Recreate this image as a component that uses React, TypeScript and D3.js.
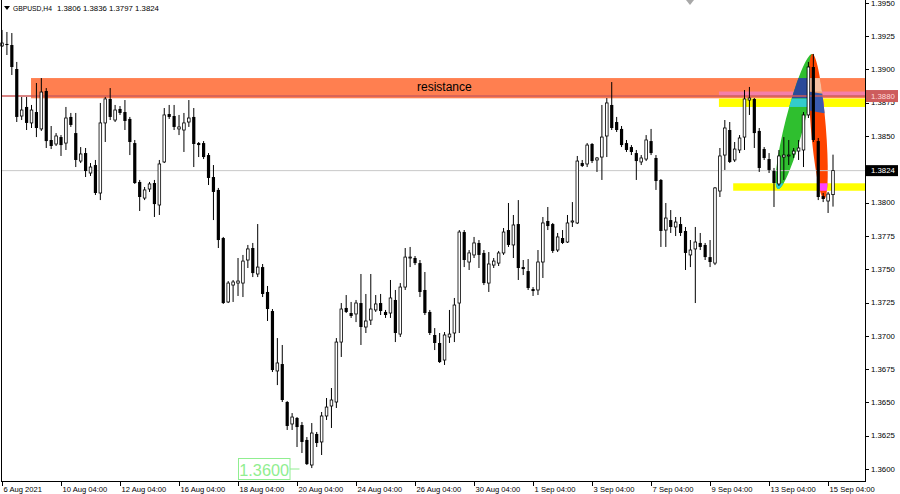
import React, { useEffect } from 'react';
import * as d3 from 'd3';

const W = 900;
const H = 494;

// ---- data ----
const symbolTitle = 'GBPUSD,H4';
const lastBar = [1.3806, 1.3836, 1.3797, 1.3824];

const tickIndex = [0, 12, 24, 36, 48, 60, 72, 84, 96, 108, 120, 132, 144, 156, 168];
const tickLabels = [
  '6 Aug 2021', '10 Aug 04:00', '12 Aug 04:00', '16 Aug 04:00', '18 Aug 04:00',
  '20 Aug 04:00', '24 Aug 04:00', '26 Aug 04:00', '30 Aug 04:00', '1 Sep 04:00',
  '3 Sep 04:00', '7 Sep 04:00', '9 Sep 04:00', '13 Sep 04:00', '15 Sep 04:00',
];
const priceTicks = [1.36, 1.3625, 1.365, 1.3675, 1.37, 1.3725, 1.375, 1.3775, 1.38, 1.3825, 1.385, 1.3875, 1.39, 1.3925, 1.395];

const opens = [
  1.39176, 1.39191, 1.39183, 1.39003, 1.38650, 1.38718, 1.38598, 1.38680, 1.38553, 1.38838,
  1.38470, 1.38440, 1.38492, 1.38447, 1.38643, 1.38522, 1.38312, 1.38372, 1.38222, 1.38282,
  1.38072, 1.38598, 1.38778, 1.38620, 1.38703, 1.38680, 1.38628, 1.38447, 1.38155, 1.38034,
  1.38102, 1.38147, 1.37982, 1.38305, 1.38665, 1.38650, 1.38553, 1.38545, 1.38605, 1.38643,
  1.38447, 1.38447, 1.38357, 1.38192, 1.38095, 1.37734, 1.37254, 1.37381, 1.37396, 1.37396,
  1.37569, 1.37659, 1.37464, 1.37516, 1.37329, 1.37186, 1.36736, 1.36788, 1.36503, 1.36338,
  1.36383, 1.36330, 1.36218, 1.36030, 1.36263, 1.36203, 1.36398, 1.36473, 1.36503, 1.36953,
  1.37209, 1.37171, 1.37164, 1.37246, 1.37066, 1.37118, 1.37194, 1.37246, 1.37179, 1.37171,
  1.37269, 1.37013, 1.37366, 1.37584, 1.37584, 1.37546, 1.37344, 1.37179, 1.37006, 1.36946,
  1.36818, 1.36991, 1.37021, 1.37246, 1.37779, 1.37554, 1.37607, 1.37697, 1.37622, 1.37396,
  1.37531, 1.37546, 1.37622, 1.37794, 1.37682, 1.37839, 1.37516, 1.37486, 1.37351, 1.37344,
  1.37554, 1.37862, 1.37839, 1.37644, 1.37734, 1.37704, 1.37854, 1.37847, 1.38297, 1.38290,
  1.38440, 1.38320, 1.38342, 1.38500, 1.38733, 1.38605, 1.38553, 1.38447, 1.38417, 1.38372,
  1.38305, 1.38327, 1.38462, 1.38335, 1.38170, 1.37794, 1.37869, 1.37817, 1.37839, 1.37787,
  1.37607, 1.37652, 1.37697, 1.37682, 1.37591, 1.37546, 1.38087, 1.38357, 1.38545, 1.38320,
  1.38395, 1.38492, 1.38770, 1.38778, 1.38538, 1.38402, 1.38327, 1.38237, 1.38140, 1.38342,
  1.38350, 1.38365, 1.38387, 1.38395, 1.38658, 1.39018, 1.38462, 1.38049, 1.38012, 1.38060,
];
const highs = [
  1.39296, 1.39281, 1.39273, 1.39056, 1.38793, 1.38793, 1.38733, 1.38898, 1.38935, 1.38860,
  1.38575, 1.38522, 1.38507, 1.38718, 1.38673, 1.38673, 1.38417, 1.38410, 1.38297, 1.38320,
  1.38748, 1.38793, 1.38860, 1.38733, 1.38725, 1.38770, 1.38643, 1.38470, 1.38170, 1.38117,
  1.38155, 1.38170, 1.38320, 1.38710, 1.38733, 1.38733, 1.38658, 1.38673, 1.38770, 1.38710,
  1.38455, 1.38462, 1.38372, 1.38282, 1.38110, 1.37742, 1.37411, 1.37419, 1.37584, 1.37607,
  1.37682, 1.37697, 1.37839, 1.37539, 1.37374, 1.37201, 1.36983, 1.36931, 1.36510, 1.36420,
  1.36390, 1.36353, 1.36240, 1.36345, 1.36278, 1.36428, 1.36533, 1.36608, 1.36983, 1.37246,
  1.37306, 1.37254, 1.37269, 1.37464, 1.37314, 1.37464, 1.37306, 1.37314, 1.37194, 1.37419,
  1.37344, 1.37396, 1.37659, 1.37667, 1.37599, 1.37569, 1.37479, 1.37194, 1.37058, 1.37021,
  1.37028, 1.37194, 1.37284, 1.37794, 1.37794, 1.37644, 1.37742, 1.37719, 1.37644, 1.37629,
  1.37584, 1.37637, 1.37809, 1.37997, 1.37907, 1.38019, 1.37569, 1.37576, 1.37366, 1.37644,
  1.37892, 1.37967, 1.37847, 1.37772, 1.37794, 1.37907, 1.38004, 1.38350, 1.38320, 1.38447,
  1.38447, 1.38342, 1.38733, 1.38785, 1.38905, 1.38643, 1.38575, 1.38470, 1.38432, 1.38395,
  1.38357, 1.38507, 1.38553, 1.38357, 1.38177, 1.37997, 1.37944, 1.37892, 1.37892, 1.37817,
  1.37719, 1.37817, 1.37772, 1.37697, 1.37719, 1.38117, 1.38410, 1.38620, 1.38605, 1.38455,
  1.38507, 1.38845, 1.38868, 1.38785, 1.38560, 1.38417, 1.38372, 1.38260, 1.38395, 1.38492,
  1.38470, 1.38410, 1.38470, 1.38680, 1.39056, 1.39116, 1.38485, 1.38072, 1.38080, 1.38360,
];
const lows = [
  1.39168, 1.39108, 1.38958, 1.38605, 1.38620, 1.38545, 1.38560, 1.38492, 1.38538, 1.38410,
  1.38402, 1.38425, 1.38350, 1.38395, 1.38568, 1.38267, 1.38297, 1.38192, 1.38200, 1.38057,
  1.38019, 1.38455, 1.38620, 1.38605, 1.38658, 1.38545, 1.38357, 1.38140, 1.37937, 1.38019,
  1.38080, 1.37892, 1.37907, 1.38297, 1.38628, 1.38545, 1.38507, 1.38380, 1.38568, 1.38267,
  1.38342, 1.38327, 1.38132, 1.37869, 1.37659, 1.37239, 1.37246, 1.37254, 1.37299, 1.37291,
  1.37509, 1.37441, 1.37441, 1.37291, 1.37111, 1.36728, 1.36630, 1.36503, 1.36293, 1.36293,
  1.36165, 1.36120, 1.36030, 1.36007, 1.36165, 1.36105, 1.36368, 1.36308, 1.36458, 1.36841,
  1.37171, 1.37134, 1.37103, 1.36931, 1.37021, 1.37081, 1.37179, 1.37156, 1.37134, 1.37134,
  1.36953, 1.36991, 1.37344, 1.37516, 1.37531, 1.37291, 1.37156, 1.37006, 1.36893, 1.36796,
  1.36781, 1.36946, 1.36953, 1.37021, 1.37516, 1.37494, 1.37584, 1.37509, 1.37381, 1.37329,
  1.37509, 1.37524, 1.37607, 1.37667, 1.37584, 1.37419, 1.37456, 1.37344, 1.37299, 1.37306,
  1.37434, 1.37794, 1.37622, 1.37629, 1.37689, 1.37697, 1.37817, 1.37839, 1.38267, 1.38267,
  1.38297, 1.38230, 1.38170, 1.38342, 1.38545, 1.38530, 1.38417, 1.38380, 1.38357, 1.38170,
  1.38282, 1.38312, 1.38357, 1.38095, 1.37667, 1.37667, 1.37772, 1.37749, 1.37749, 1.37494,
  1.37516, 1.37246, 1.37644, 1.37569, 1.37516, 1.37531, 1.38042, 1.38245, 1.38297, 1.38305,
  1.38372, 1.38395, 1.38658, 1.38410, 1.38230, 1.38320, 1.38222, 1.37967, 1.38125, 1.38170,
  1.38282, 1.38335, 1.38320, 1.38267, 1.38635, 1.38455, 1.38019, 1.38004, 1.37922, 1.37970,
];
const closes = [
  1.39198, 1.39183, 1.39018, 1.38643, 1.38695, 1.38598, 1.38695, 1.38560, 1.38830, 1.38462,
  1.38425, 1.38500, 1.38432, 1.38635, 1.38583, 1.38320, 1.38365, 1.38237, 1.38267, 1.38072,
  1.38598, 1.38778, 1.38643, 1.38695, 1.38673, 1.38613, 1.38455, 1.38147, 1.38042, 1.38095,
  1.38140, 1.37989, 1.38290, 1.38658, 1.38643, 1.38568, 1.38568, 1.38598, 1.38635, 1.38440,
  1.38432, 1.38342, 1.38185, 1.38080, 1.37719, 1.37246, 1.37396, 1.37404, 1.37411, 1.37561,
  1.37652, 1.37471, 1.37516, 1.37314, 1.37201, 1.36743, 1.36796, 1.36518, 1.36323, 1.36390,
  1.36315, 1.36203, 1.36037, 1.36270, 1.36195, 1.36398, 1.36465, 1.36518, 1.36953, 1.37201,
  1.37179, 1.37149, 1.37246, 1.37066, 1.37111, 1.37201, 1.37239, 1.37186, 1.37156, 1.37284,
  1.37021, 1.37366, 1.37591, 1.37591, 1.37546, 1.37329, 1.37171, 1.37021, 1.36946, 1.36803,
  1.37006, 1.37013, 1.37231, 1.37779, 1.37569, 1.37622, 1.37697, 1.37607, 1.37396, 1.37539,
  1.37561, 1.37622, 1.37779, 1.37682, 1.37832, 1.37509, 1.37501, 1.37359, 1.37336, 1.37554,
  1.37847, 1.37824, 1.37637, 1.37742, 1.37697, 1.37847, 1.37862, 1.38312, 1.38275, 1.38432,
  1.38312, 1.38335, 1.38492, 1.38748, 1.38560, 1.38545, 1.38432, 1.38395, 1.38380, 1.38312,
  1.38335, 1.38470, 1.38372, 1.38162, 1.37787, 1.37884, 1.37817, 1.37854, 1.37772, 1.37622,
  1.37644, 1.37704, 1.37667, 1.37591, 1.37554, 1.38110, 1.38350, 1.38560, 1.38305, 1.38402,
  1.38485, 1.38778, 1.38785, 1.38522, 1.38260, 1.38335, 1.38245, 1.38147, 1.38350, 1.38357,
  1.38357, 1.38387, 1.38410, 1.38658, 1.39018, 1.38470, 1.38042, 1.38027, 1.38064, 1.38240,
];

// zones: [start bar index, low price, high price]
const resistanceZone = [5.9, 1.38783, 1.38935];
const pinkZone = [145.8, 1.38800, 1.38834];
const upperYellowZone = [145.8, 1.38718, 1.38781];
const lowerYellowZone = [148.7, 1.38089, 1.38145];
const resistanceLevel = 1.388;
const currentPrice = 1.3824;
const labelPrice = 1.36;
const labelBar = 48.3;
// pattern legs: [bar index, price] endpoints
const greenLeg = [[157.8, 1.38103], [164.8, 1.39116]];
const redLeg = [[164.8, 1.39116], [167.2, 1.38027]];

const FONT = '"Liberation Sans", Arial, sans-serif';

export default function App() {
  useEffect(() => {
    document.body.style.margin = '0';
  }, []);

  const right = 865;
  const bottom = 481;
  const x = d3.scaleLinear().domain([0, 169]).range([2, 833]);
  const y = d3.scaleLinear().domain([1.36, 1.395]).range([469, 2.8]);

  const ell = (leg: number[][], ry: number) => {
    const x1 = x(leg[0][0]), y1 = y(leg[0][1]), x2 = x(leg[1][0]), y2 = y(leg[1][1]);
    const cx = (x1 + x2) / 2, cy = (y1 + y2) / 2;
    const rx = Math.hypot(x2 - x1, y2 - y1) / 2;
    const ang = (Math.atan2(y2 - y1, x2 - x1) * 180) / Math.PI;
    return { cx, cy, rx, ry, transform: `rotate(${ang},${cx},${cy})` };
  };
  const g = ell(greenLeg, 9.5);
  const r = ell(redLeg, 7.5);

  const zoneRect = (z: number[], fill: string, extra: any = {}) => (
    <rect x={x(z[0])} y={y(z[2])} width={right - x(z[0])} height={y(z[1]) - y(z[2])} fill={fill} {...extra} />
  );

  const candles = opens.map((o, i) => {
    const c = closes[i];
    const cx = x(i);
    const bull = c >= o;
    const top = y(Math.max(o, c));
    const bot = y(Math.min(o, c));
    const h = Math.max(bot - top, 0.8);
    return (
      <g key={i}>
        <line x1={cx} x2={cx} y1={y(highs[i])} y2={y(lows[i])} stroke="#000" strokeWidth={1} />
        {bull ? (
          <rect x={cx - 1.3} y={top} width={2.6} height={h} fill="#fff" stroke="#000" strokeWidth={0.8} />
        ) : (
          <rect x={cx - 1.6} y={top} width={3.2} height={h} fill="#000" />
        )}
      </g>
    );
  });

  const fmt = d3.format('.4f');

  return (
    <svg width={W} height={H} style={{ position: 'absolute', left: 0, top: 0, display: 'block' }} fontFamily={FONT}>
      <defs>
        <clipPath id="clipG">
          <ellipse {...g} />
        </clipPath>
        <clipPath id="clipR">
          <ellipse {...r} />
        </clipPath>
      </defs>
      <rect x={0} y={0} width={W} height={H} fill="#fff" />

      {/* zones */}
      {zoneRect(resistanceZone, '#ff7f50')}
      {zoneRect(pinkZone, '#f57fa8')}
      {zoneRect(upperYellowZone, '#ffff00')}
      {zoneRect(lowerYellowZone, '#ffff00')}

      {/* pattern shapes */}
      <ellipse {...g} fill="#2fbf2f" />
      <ellipse {...r} fill="#ff4500" />
      {zoneRect(resistanceZone, '#2b4a99', { clipPath: 'url(#clipG)' })}
      {zoneRect(resistanceZone, '#f7bfa0', { clipPath: 'url(#clipR)' })}
      {zoneRect(pinkZone, '#f5a070', { clipPath: 'url(#clipR)' })}
      {zoneRect(upperYellowZone, '#33cccc', { clipPath: 'url(#clipG)' })}
      {zoneRect(lowerYellowZone, '#33cccc', { clipPath: 'url(#clipG)' })}
      {zoneRect(upperYellowZone, '#ff44ff', { clipPath: 'url(#clipR)' })}
      {zoneRect(lowerYellowZone, '#ff44ff', { clipPath: 'url(#clipR)' })}
      <ellipse {...r} fill="#3a5bb0" clipPath="url(#clipG)" />

      {/* lines */}
      <line x1={1} x2={right} y1={y(currentPrice)} y2={y(currentPrice)} stroke="#c8c8c8" strokeWidth={1} />
      <line x1={1} x2={right} y1={y(resistanceLevel)} y2={y(resistanceLevel)} stroke="#cd5c5c" strokeWidth={1.5} />

      <text x={417} y={91} fontSize={12} fill="#000">resistance</text>

      {candles}

      {/* price label object */}
      <rect x={238.5} y={458.5} width={51.5} height={21} fill="#fff" stroke="#90ee90" strokeWidth={1} />
      <text x={264.2} y={476} fontSize={16.3} fill="#90ee90" textAnchor="middle">{fmt(labelPrice)}</text>
      <line x1={290} x2={x(labelBar) + 60} y1={y(labelPrice)} y2={y(labelPrice)} stroke="#90ee90" strokeWidth={1} />

      {/* frame */}
      <line x1={1.5} x2={1.5} y1={0} y2={bottom} stroke="#000" strokeWidth={1} />
      <line x1={right + 0.5} x2={right + 0.5} y1={0} y2={bottom + 0.5} stroke="#000" strokeWidth={1} />
      <line x1={1} x2={right + 1} y1={bottom + 0.5} y2={bottom + 0.5} stroke="#000" strokeWidth={1} />

      {/* shift marker */}
      <path d="M686,0 L694,0 L690,5 Z" fill="#a8a8a8" />

      {/* right axis */}
      {priceTicks.map((p) => (
        <g key={p}>
          <line x1={right} x2={right + 4} y1={Math.round(y(p)) + 0.5} y2={Math.round(y(p)) + 0.5} stroke="#000" />
          <text x={871} y={y(p)} dy="0.35em" fontSize={7.8} fill="#000">{fmt(p)}</text>
        </g>
      ))}
      <rect x={866} y={y(resistanceLevel) - 6} width={32} height={12} fill="#cd5c5c" />
      <text x={871} y={y(resistanceLevel)} dy="0.35em" fontSize={7.8} fill="#ffd8d8">{fmt(resistanceLevel)}</text>
      <rect x={866} y={y(currentPrice) - 5.5} width={32} height={11} fill="#000" />
      <text x={871} y={y(currentPrice)} dy="0.35em" fontSize={7.8} fill="#fff">{fmt(currentPrice)}</text>

      {/* bottom axis */}
      {tickIndex.map((ti, k) => (
        <g key={ti}>
          <line x1={Math.round(x(ti)) + 0.5} x2={Math.round(x(ti)) + 0.5} y1={bottom} y2={bottom + 5} stroke="#000" />
          <text x={x(ti) + 1.5} y={491.5} fontSize={7.6} fill="#000">{tickLabels[k]}</text>
        </g>
      ))}

      {/* header */}
      <path d="M4,6 L10,6 L7,10 Z" fill="#000" />
      <text x={13} y={11} fontSize={7.8} fill="#000" textLength={39} lengthAdjust="spacingAndGlyphs">{symbolTitle}</text>
      <text x={57} y={11} fontSize={7.8} fill="#000">{lastBar.map((v) => fmt(v)).join(' ')}</text>
    </svg>
  );
}
